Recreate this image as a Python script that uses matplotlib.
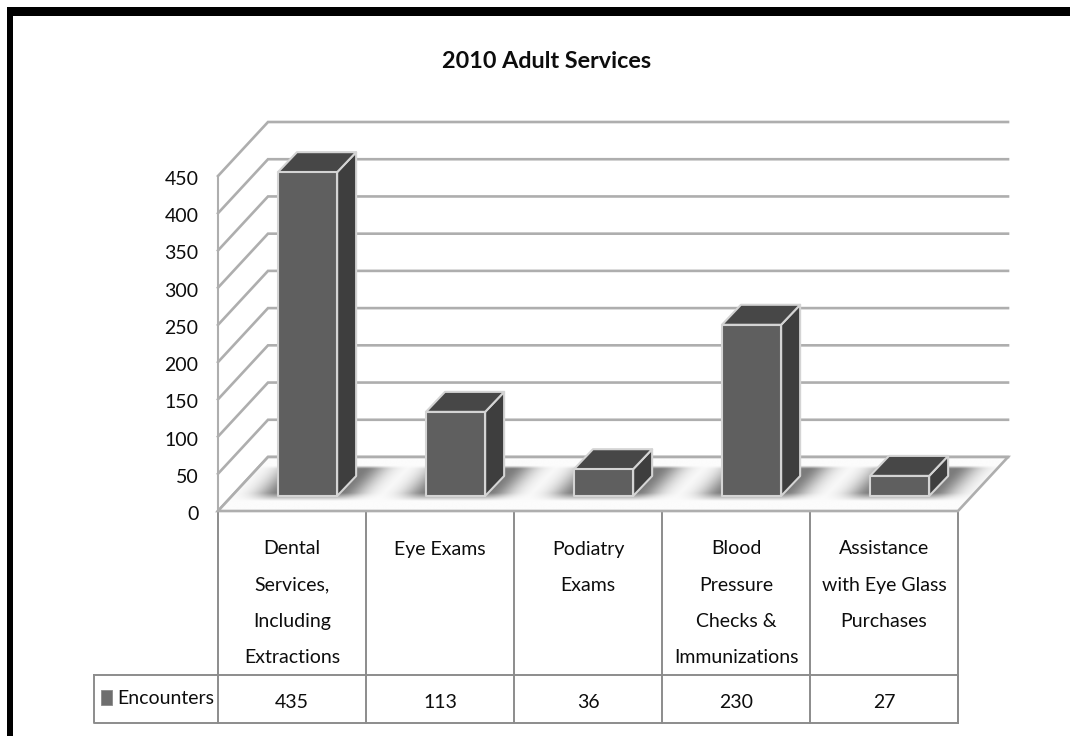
import matplotlib
matplotlib.use('Agg')
import matplotlib.pyplot as plt
import numpy as np
from matplotlib.patches import Polygon, Rectangle
from matplotlib.transforms import ScaledTranslation

categories = ['Dental\nServices,\nIncluding\nExtractions', 'Eye Exams', 'Podiatry\nExams',
              'Blood\nPressure\nChecks &\nImmunizations', 'Assistance\nwith Eye Glass\nPurchases']
encounters = [435, 113, 36, 230, 27]
y_ticks = [0, 50, 100, 150, 200, 250, 300, 350, 400, 450]
title = '2010 Adult Services'
series_name = 'Encounters'

FONT = ['Lato', 'DejaVu Sans']
TEXT = '#0d0d0d'
GRID = '#aeaeae'
TABLE = '#8c8c8c'
W, H = 1070, 736

# axes box is the front plane of the 3d chart, in pixels
LEFT, RIGHT, BASE, TOP = 218, 958, 511, 176
PX_X = (RIGHT - LEFT) / len(categories)
PX_Y = (BASE - TOP) / y_ticks[-1]


def dx(px):
    return px / PX_X


def dy(px):
    return px / PX_Y


fig = plt.figure(figsize=(W / 100, H / 100), dpi=100)
fig.patch.set_facecolor('white')
ax = fig.add_axes([LEFT / W, 1 - BASE / H, (RIGHT - LEFT) / W, (BASE - TOP) / H])
ax.patch.set_visible(False)
for s in ax.spines.values():
    s.set_visible(False)

# black frame, only top and left are in the picture
fig.add_artist(Rectangle((7 / W, 1 - 16 / H), (W - 7) / W, 9 / H, transform=fig.transFigure,
                         fc='black', ec='none'))
fig.add_artist(Rectangle((7 / W, 0), 6 / W, 1 - 7 / H, transform=fig.transFigure,
                         fc='black', ec='none'))

wall_x, wall_y = dx(50), dy(54)
n = len(categories)

# walls and grid lines
for t in y_ticks:
    ax.plot([0, wall_x, n + wall_x], [t, t + wall_y, t + wall_y], color=GRID, lw=1.9,
            clip_on=False, zorder=1, solid_joinstyle='miter')
ax.plot([0, 0], [0, y_ticks[-1]], color=GRID, lw=1.5, clip_on=False, zorder=1)

# floor with soft shadows round the bar feet
bar_left = 0.405
bar_w = 0.4
foot = dy(15)
xs = np.linspace(0, n + wall_x, 1600)
ys = np.linspace(0, wall_y, 200)
gx, gy = np.meshgrid(xs, ys)
skew = gx - (gy - foot) * wall_x / wall_y
shade = np.zeros_like(gx)
for i in range(n):
    c = i + bar_left + bar_w / 2
    d = np.clip(np.abs(skew - c) - bar_w / 2, 0, None)
    shade = np.maximum(shade, np.exp(-(d / 0.16) ** 2))
band = np.clip((gy - dy(10)) / dy(8), 0, 1) * np.clip((dy(45.5) - gy) / dy(3), 0, 1)
# transparent outside the floor so the left wall lines stay visible
base_x = gx - gy * wall_x / wall_y
inside = ((base_x >= 0) & (base_x <= n)).astype(float)
img = ax.imshow(0.985 - 0.5 * shade * band, extent=[0, n + wall_x, 0, wall_y], origin='lower',
                cmap='gray', vmin=0, vmax=1, aspect='auto', zorder=2, alpha=inside)
img.set_clip_box(fig.bbox)
floor = Polygon([(0, 0), (n, 0), (n + wall_x, wall_y), (wall_x, wall_y)], closed=True,
                fc='none', ec=GRID, lw=1.9, clip_on=False, zorder=3, joinstyle='miter')
ax.add_patch(floor)

# bars
depth_x, depth_y = dx(19), dy(20)
for i, v in enumerate(encounters):
    x0 = i + bar_left
    x1 = x0 + bar_w
    y0 = foot
    y1 = foot + v
    edge = dict(ec='#d4d4d4', lw=1.5, clip_on=False, zorder=5, joinstyle='round')
    ax.add_patch(Polygon([(x1, y0), (x1 + depth_x, y0 + depth_y), (x1 + depth_x, y1 + depth_y), (x1, y1)],
                         fc='#3e3e3e', **edge))
    ax.add_patch(Polygon([(x0, y1), (x1, y1), (x1 + depth_x, y1 + depth_y), (x0 + depth_x, y1 + depth_y)],
                         fc='#474747', **edge))
    ax.add_patch(Rectangle((x0, y0), bar_w, v, fc='#5f5f5f', **edge))

ax.set_xlim(0, n)
ax.set_ylim(0, y_ticks[-1])
ax.set_xticks([])
ax.set_yticks(y_ticks)
ax.set_yticklabels([str(t) for t in y_ticks], family=FONT, fontsize=14, color=TEXT)
ax.tick_params(axis='y', length=0, pad=14)
# tick labels sit a little lower than the grid level
for lab in ax.get_yticklabels():
    lab.set_transform(lab.get_transform() + ScaledTranslation(0, -2 / 100, fig.dpi_scale_trans))

# data table under the chart
row1 = dy(BASE - 675)
row2 = dy(BASE - 723)
for i in range(n + 1):
    ax.plot([i, i], [0, row2], color=TABLE, lw=1.4, clip_on=False)
leg_x = dx(94 - LEFT)
ax.plot([leg_x, n, n, leg_x, leg_x], [row1, row1, row2, row2, row1], color=TABLE, lw=1.4, clip_on=False)
ax.add_patch(Rectangle((dx(101 - LEFT), dy(BASE - 705)), dx(11), dy(15), fc='#6e6e6e', ec='#8a8a8a',
                       lw=0.6, clip_on=False))
ax.text(dx(117 - LEFT), dy(BASE - 699), series_name, family=FONT, fontsize=14, color=TEXT,
        ha='left', va='center', clip_on=False)

for i, label in enumerate(categories):
    for j, line in enumerate(label.split('\n')):
        ax.text(i + 0.5, dy(BASE - (549 + 36.3 * j)), line, family=FONT, fontsize=14, color=TEXT,
                ha='center', va='center', clip_on=False)
    ax.text(i + 0.5, dy(BASE - 702), str(encounters[i]), family=FONT, fontsize=14, color=TEXT,
            ha='center', va='center', clip_on=False)

fig.text(547 / W, 1 - 61 / H, title, family=FONT, fontsize=16.8, fontweight='bold', color=TEXT,
         ha='center', va='center')

fig.savefig('out.png', dpi=100)
plt.close(fig)
